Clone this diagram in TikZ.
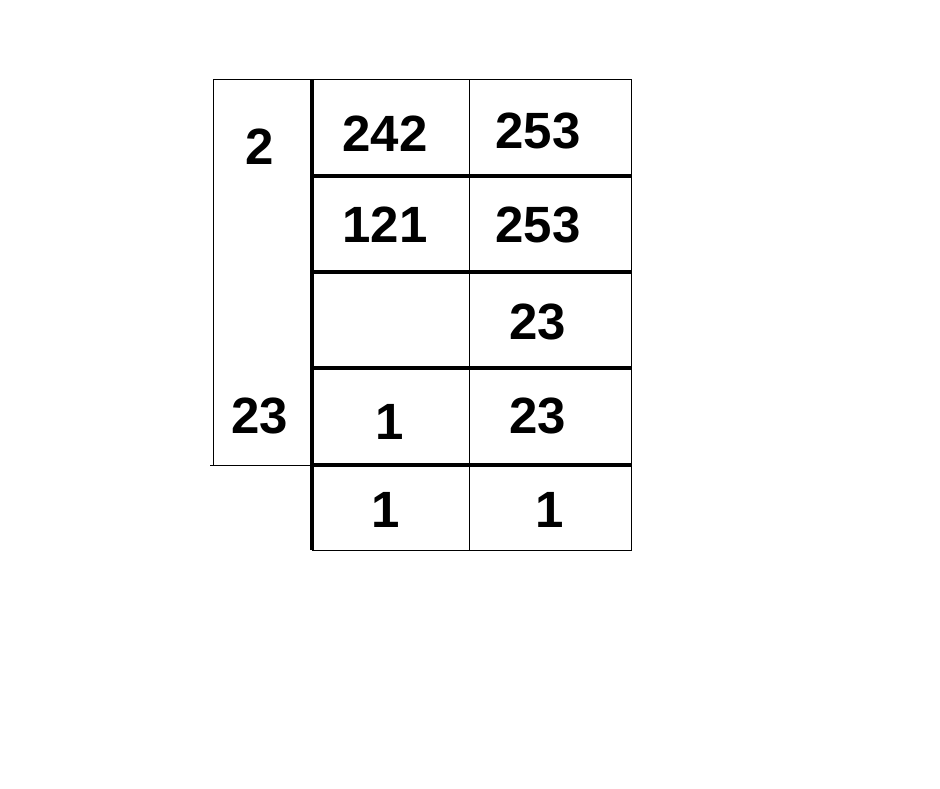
\documentclass[tikz,border=0pt]{standalone}
\usepackage{fontspec}
\setmainfont{Liberation Sans}
\usetikzlibrary{positioning}

\begin{document}
\begin{tikzpicture}[x=1pt,y=-1pt,
	thinrule/.style={line width=1pt},
	thickrule/.style={line width=4.6pt},
	entry/.style={font=\fontsize{51}{51}\selectfont\bfseries,inner sep=0pt}]
	\useasboundingbox (0,0) rectangle (940,788);
	% divisor column
	\draw[thinrule] (213,79) -- (213,465);
	\draw[thinrule] (210,465) -- (312,465);
	% frame of the table
	\draw[thinrule] (213,79) -- (631,79) -- (631,550) -- (312,550);
	\draw[thinrule] (469,79) -- (469,550);
	\draw[thickrule] (312,79) -- (312,550);
	\foreach \y in {176,272,368,465}
		\draw[thickrule] (312,\y) -- (631,\y);
	% divisors
	\node[entry] (d1) at (260,147) {2};
	\node[entry] (d2) at (260,416) {23};
	% first number
	\node[entry] (a1) at (385,134) {242};
	\node[entry] (a2) at (385,225) {121};
	\node[entry] (a4) at (390,422) {1};
	\node[entry] (a5) at (386,510) {1};
	% second number
	\node[entry] (b1) at (538,131) {253};
	\node[entry] (b2) at (538,225) {253};
	\node[entry] (b3) at (538,322) {23};
	\node[entry] (b4) at (538,416) {23};
	\node[entry] (b5) at (550,510) {1};
\end{tikzpicture}
\end{document}
